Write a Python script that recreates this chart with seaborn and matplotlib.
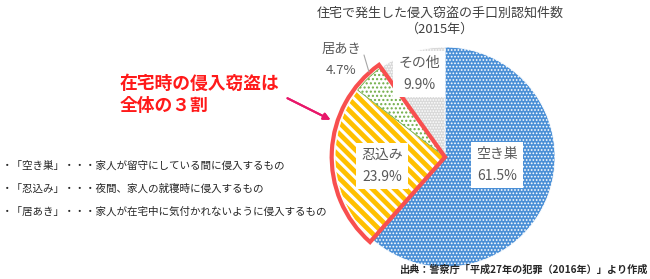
import matplotlib
matplotlib.use("Agg")
import matplotlib.pyplot as plt
import seaborn as sns
from matplotlib.patches import Wedge

sns.set_theme(style="white")
plt.rcParams['font.family'] = ['Noto Sans CJK JP', 'DejaVu Sans']
plt.rcParams['hatch.linewidth'] = 1.0

categories = ['空き巣', '忍込み', '居あき', 'その他']
values = [61.5, 23.9, 4.7, 9.9]
pct_labels = ['61.5%', '23.9%', '4.7%', '9.9%']
notes = ['・「空き巣」・・・家人が留守にしている間に侵入するもの',
         '・「忍込み」・・・夜間、家人の就寝時に侵入するもの',
         '・「居あき」・・・家人が在宅中に気付かれないように侵入するもの']
title = '住宅で発生した侵入窃盗の手口別認知件数\n（2015年）'
callout = '在宅時の侵入窃盗は\n全体の３割'
source = '出典：警察庁「平成27年の犯罪（2016年）」より作成'

W, H = 650, 279
fig = plt.figure(figsize=(W / 100, H / 100), dpi=100)

def fx(x):
    return x / W

def fy(y):
    return 1 - y / H

cx, cy, r = 445, 157, 110
ax = fig.add_axes([fx(cx - r), fy(cy + r), 2 * r / W, 2 * r / H])

faces = ['#4a8fd6', '#ffc000', '#ffffff', '#d9d9d9']
hatch_cols = ['#ffffff', '#ffffff', '#70ad47', '#ffffff']
hatches = ['.....', '\\\\\\', '....', '......']
hatch_lw = [0.8, 2.2, 1.0, 0.8]

wedges, _ = ax.pie(values, startangle=90, counterclock=False, radius=1.0,
                   colors=faces, wedgeprops=dict(linewidth=0.6))
for w, hc, h, hl in zip(wedges, hatch_cols, hatches, hatch_lw):
    w.set_edgecolor(hc)
    w.set_hatch(h)
    if hasattr(w, 'set_hatch_linewidth'):
        w.set_hatch_linewidth(hl)
ax.set_xlim(-1, 1)
ax.set_ylim(-1, 1)
ax.set_aspect('auto')
ax.axis('off')

# red outline around the in-home burglaries (忍込み + 居あき)
t_lo = min(wedges[1].theta1, wedges[1].theta2, wedges[2].theta1, wedges[2].theta2)
t_hi = max(wedges[1].theta1, wedges[1].theta2, wedges[2].theta1, wedges[2].theta2)
ax.add_patch(Wedge((0, 0), 1.03, t_lo, t_hi, fill=False, edgecolor='#f84f4f',
                   linewidth=3, joinstyle='miter', clip_on=False))

lab_col = '#595959'
box = dict(boxstyle='square,pad=0.35', facecolor='white', edgecolor='none')
# slice labels (pixel positions)
fig.text(fx(497), fy(165), categories[0] + '\n' + pct_labels[0], ha='center', va='center',
         fontsize=10, color=lab_col, linespacing=1.7, bbox=box)
fig.text(fx(382), fy(166), categories[1] + '\n' + pct_labels[1], ha='center', va='center',
         fontsize=10, color=lab_col, linespacing=1.7, bbox=box)
fig.text(fx(419), fy(74), categories[3] + '\n' + pct_labels[3], ha='center', va='center',
         fontsize=10, color=lab_col, linespacing=1.7, bbox=box)
fig.text(fx(341), fy(60), categories[2] + '\n' + pct_labels[2], ha='center', va='center',
         fontsize=9.5, color=lab_col, linespacing=1.7)
fig.add_artist(plt.Line2D([fx(364), fx(369)], [fy(55), fy(72)], color='#a6a6a6', lw=0.8))

fig.text(fx(440), fy(21), title, ha='center', va='center', fontsize=9.4,
         color='#404040', linespacing=1.35)

fig.text(fx(120), fy(95), callout, ha='left', va='center', fontsize=12.8,
         color='#ff1a1a', fontweight='bold', linespacing=1.25)
fig.add_artist(plt.annotate('', xy=(fx(333), fy(121)), xytext=(fx(285), fy(97)),
                            xycoords='figure fraction', textcoords='figure fraction',
                            arrowprops=dict(arrowstyle='-|>', color='#e8186a', lw=1.5,
                                            mutation_scale=10)))

for i, n in enumerate(notes):
    fig.text(fx(2), fy(166 + i * 23), n, ha='left', va='center', fontsize=7.6, color='#262626')

fig.text(fx(648), fy(270), source, ha='right', va='center', fontsize=7.3,
         color='#262626', fontweight='bold')

fig.savefig('out.png', dpi=100)
